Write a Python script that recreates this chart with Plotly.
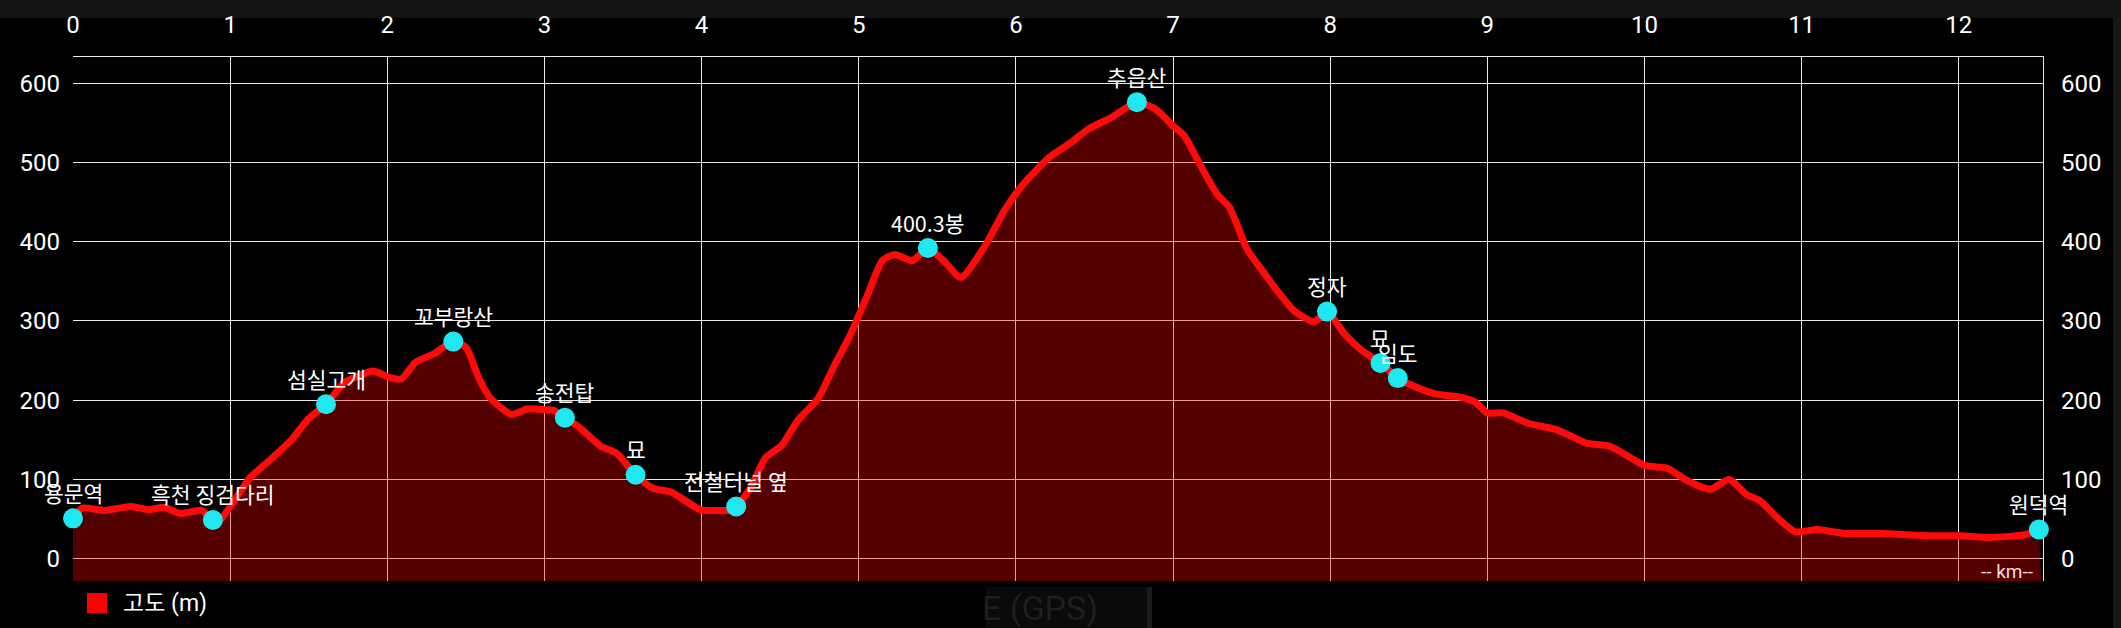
import plotly.graph_objects as go

# ---- data ----
dist_km = [0.00, 0.06, 0.20, 0.37, 0.48, 0.58, 0.68, 0.77, 0.82, 0.89, 0.93,
           1.13, 1.25, 1.39, 1.50, 1.61, 1.73, 1.82, 1.91, 2.01, 2.09, 2.18,
           2.30, 2.42, 2.50, 2.58, 2.65, 2.79, 2.89, 3.01, 3.06, 3.13, 3.22,
           3.36, 3.46, 3.58, 3.69, 3.81, 3.99, 4.11, 4.16, 4.22, 4.30, 4.41,
           4.51, 4.61, 4.74, 4.84, 4.95, 5.05, 5.15, 5.23, 5.34, 5.44, 5.54,
           5.65, 5.81, 5.92, 6.04, 6.21, 6.35, 6.46, 6.61, 6.77, 6.89, 7.00,
           7.07, 7.17, 7.28, 7.36, 7.47, 7.57, 7.68, 7.77, 7.90, 7.98, 8.09,
           8.20, 8.32, 8.43, 8.52, 8.67, 8.83, 8.92, 9.00, 9.10, 9.26, 9.44,
           9.63, 9.78, 10.00, 10.15, 10.26, 10.42, 10.54, 10.65, 10.73, 10.85,
           10.96, 11.10, 11.27, 11.51, 11.82, 12.01, 12.19, 12.41, 12.51]
elev_m = [51, 64, 61, 66, 62, 65, 57, 60, 61, 49, 48,
          103, 124, 150, 177, 195, 223, 231, 237, 229, 227, 248,
          259, 274, 267, 229, 204, 182, 189, 188, 187, 178, 166,
          142, 133, 106, 89, 84, 62, 61, 61, 66, 86, 128,
          143, 174, 202, 242, 284, 330, 376, 384, 376, 392, 376,
          355, 397, 437, 471, 506, 525, 542, 557, 576, 567, 546,
          534, 498, 460, 443, 391, 363, 334, 313, 299, 312, 284,
          263, 247, 228, 219, 208, 204, 198, 184, 184, 171, 163,
          146, 142, 118, 114, 100, 88, 100, 81, 74, 51,
          34, 37, 32, 32, 29, 29, 27, 30, 37]

wp_names = ["용문역", "흑천 징검다리", "섬실고개", "꼬부랑산", "송전탑", "묘",
            "전철터널 옆", "400.3봉", "추읍산", "정자", "묘", "임도", "원덕역"]
wp_km = [0.00, 0.89, 1.61, 2.42, 3.13, 3.58, 4.22, 5.44, 6.77, 7.98, 8.32, 8.43, 12.51]
wp_elev = [51, 49, 195, 274, 178, 106, 66, 392, 576, 312, 247, 228, 37]

x_ticks = list(range(0, 13))
y_ticks = [0, 100, 200, 300, 400, 500, 600]
x_range = [0, 12.536]
y_range = [-28, 633]
series_name = "고도 (m)"
unit_label = "-- km--"

W, H = 2121, 628
ML, MR, MT, MB = 73, 78, 57, 47

fig = go.Figure()

# baseline (below visible range) so the fill reaches the plot bottom
fig.add_trace(go.Scatter(x=[dist_km[0], dist_km[-1], x_range[1]],
                         y=[y_range[0] - 50] * 3, mode="lines",
                         line=dict(width=0), hoverinfo="skip", showlegend=False))
fig.add_trace(go.Scatter(x=dist_km, y=elev_m, mode="lines", name=series_name,
                         line=dict(color="#ff0a0a", width=7, shape="spline", smoothing=0.6),
                         fill="tonexty", fillcolor="rgba(255,0,0,0.333)",
                         showlegend=False))
fig.add_trace(go.Scatter(x=wp_km, y=wp_elev, mode="markers",
                         marker=dict(color="#1fe9f0", size=20, line=dict(width=0)),
                         cliponaxis=False, showlegend=False))
# invisible trace for right axis
fig.add_trace(go.Scatter(x=[None], y=[None], yaxis="y2", showlegend=False))

for nm, xk, ye in zip(wp_names, wp_km, wp_elev):
    fig.add_annotation(x=xk, y=ye, text=nm, showarrow=False, yshift=26,
                       xanchor="center", yanchor="middle",
                       font=dict(family="Noto Sans CJK KR", size=21.5, color="white"))

tickfont = dict(family="Roboto", size=24, color="white")
grid = "rgba(240,240,240,0.97)"

fig.update_layout(
    width=W, height=H,
    margin=dict(l=ML, r=MR, t=MT, b=MB, pad=0),
    paper_bgcolor="black", plot_bgcolor="black",
    xaxis=dict(range=x_range, side="top", tickvals=x_ticks, ticks="",
               showgrid=True, gridcolor=grid, gridwidth=1.4, zeroline=False,
               showline=True, linecolor=grid, linewidth=1.4, mirror=False,
               tickfont=tickfont, ticklabelstandoff=13, layer="below traces"),
    yaxis=dict(range=y_range, tickvals=y_ticks, ticks="", side="left",
               showgrid=True, gridcolor=grid, gridwidth=1.4, zeroline=False,
               showline=False, tickfont=tickfont, ticklabelstandoff=12,
               layer="below traces"),
    yaxis2=dict(range=y_range, tickvals=y_ticks, ticks="", side="right",
                overlaying="y", showgrid=False, zeroline=False,
                showline=True, linecolor=grid, linewidth=1.4,
                tickfont=tickfont, ticklabelstandoff=12, layer="below traces"),
    showlegend=False,
)

pw = W - ML - MR
ph = H - MT - MB
def px(x):
    return (x - ML) / pw
def py(y):
    return (H - MB - y) / ph

shapes = [
    # top status band
    dict(type="rect", xref="paper", yref="paper", x0=px(0), x1=px(W), y0=py(18), y1=py(0),
         fillcolor="#141414", line=dict(width=0), layer="below"),
    # right strip
    dict(type="rect", xref="paper", yref="paper", x0=px(2113), x1=px(W), y0=py(H), y1=py(18),
         fillcolor="#161616", line=dict(width=0), layer="below"),
    # faint bottom box
    dict(type="rect", xref="paper", yref="paper", x0=px(986), x1=px(1147), y0=py(H), y1=py(587),
         fillcolor="#0a0a0a", line=dict(width=0), layer="below"),
    dict(type="rect", xref="paper", yref="paper", x0=px(1147), x1=px(1152), y0=py(H), y1=py(587),
         fillcolor="#1c1c1c", line=dict(width=0), layer="below"),
    # legend swatch
    dict(type="rect", xref="paper", yref="paper", x0=px(87), x1=px(107), y0=py(613), y1=py(593),
         fillcolor="#ff0000", line=dict(width=0)),
]
fig.update_layout(shapes=shapes)

fig.add_annotation(xref="paper", yref="paper", x=px(121), y=py(603), text=series_name,
                   showarrow=False, xanchor="left", yanchor="middle",
                   font=dict(family="Roboto, Noto Sans CJK KR", size=23, color="white"))
fig.add_annotation(xref="paper", yref="paper", x=px(2035), y=py(571), text=unit_label,
                   showarrow=False, xanchor="right", yanchor="middle",
                   font=dict(family="Roboto", size=19, color="#f4dede"))
fig.add_annotation(xref="paper", yref="paper", x=px(980), y=py(608), text="E (GPS)",
                   showarrow=False, xanchor="left", yanchor="middle",
                   font=dict(family="Roboto", size=34, color="#1e1e1e"))

fig.write_html("out.html",
               config={"displayModeBar": False},
               post_script="document.body.style.margin='0';"
                           "document.body.style.background='black';"
                           "document.body.style.overflow='hidden';")
